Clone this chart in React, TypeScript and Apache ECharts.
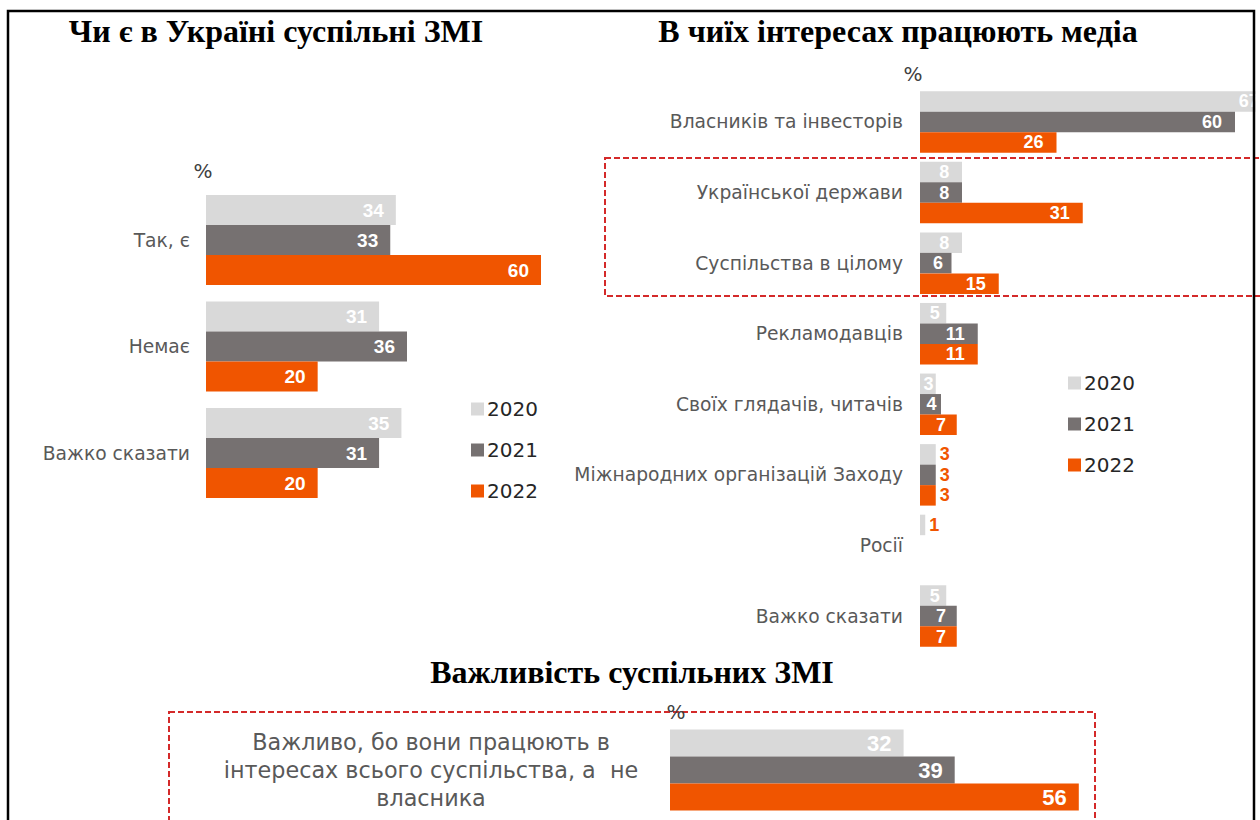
import React, { useEffect, useRef } from "react";
import * as echarts from "echarts";

const YEARS = ["2020", "2021", "2022"];
const COLORS = ["#D9D9D9", "#767171", "#F05500"];

const LEFT_CATS = ["Так, є", "Немає", "Важко сказати"];
const LEFT_2020 = [34, 31, 35];
const LEFT_2021 = [33, 36, 31];
const LEFT_2022 = [60, 20, 20];

const RIGHT_CATS = [
  "Власників та інвесторів",
  "Української держави",
  "Суспільства в цілому",
  "Рекламодавців",
  "Своїх глядачів, читачів",
  "Міжнародних організацій Заходу",
  "Росії",
  "Важко сказати",
];
const RIGHT_2020 = [67, 8, 8, 5, 3, 3, 1, 5];
const RIGHT_2021 = [60, 8, 6, 11, 4, 3, 0, 7];
const RIGHT_2022 = [26, 31, 15, 11, 7, 3, 0, 7];
const RIGHT_OUTSIDE_LABEL_CATS = ["Міжнародних організацій Заходу", "Росії"];

const BOTTOM_CATS = ["Важливо, бо вони працюють в\nінтересах всього суспільства, а  не\nвласника"];
const BOTTOM_2020 = [32];
const BOTTOM_2021 = [39];
const BOTTOM_2022 = [56];

const TITLE_LEFT = "Чи є в Україні суспільні ЗМІ";
const TITLE_RIGHT = "В чиїх інтересах працюють медіа";
const TITLE_BOTTOM = "Важливість суспільних ЗМІ";

const LABEL_FONT = "'Liberation Sans', Arial, sans-serif";
const CAT_FONT = "'DejaVu Sans', sans-serif";
const TITLE_FONT = "bold 32px 'Liberation Serif', 'Times New Roman', serif";

export default function App() {
  const ref = useRef<HTMLDivElement>(null);
  useEffect(() => {
    if (!ref.current) return;
    const chart = echarts.init(ref.current, undefined, { renderer: "svg" });

    const valueLabel = (fontSize: number, distance: number) => ({
      show: true,
      position: "insideRight",
      distance,
      color: "#ffffff",
      fontWeight: "bold",
      fontFamily: LABEL_FONT,
      fontSize,
      formatter: (p: any) => (p.value ? String(p.value) : ""),
    });

    const groups = [
      { cats: LEFT_CATS, vals: [LEFT_2020, LEFT_2021, LEFT_2022], barWidth: 30, fs: 19, dist: 12, pxPerUnit: 335 / 60, outside: [] as string[] },
      { cats: RIGHT_CATS, vals: [RIGHT_2020, RIGHT_2021, RIGHT_2022], barWidth: 20.5, fs: 18, dist: 13, pxPerUnit: 315 / 60, outside: RIGHT_OUTSIDE_LABEL_CATS },
      { cats: BOTTOM_CATS, vals: [BOTTOM_2020, BOTTOM_2021, BOTTOM_2022], barWidth: 27, fs: 22, dist: 12, pxPerUnit: 438 / 60, outside: [] as string[] },
    ];

    const makeData = (g: any, vals: number[]) =>
      vals.map((v, i) => {
        if (g.outside.includes(g.cats[i])) {
          return {
            value: v,
            label: { position: "right", distance: 4, color: "#F05500", fontSize: 18 },
          };
        }
        const barPx = v * g.pxPerUnit;
        const textW = String(v).length * g.fs * 0.56;
        const d = Math.max(1, Math.min(g.dist, (barPx - textW) / 2.5));
        return { value: v, label: { distance: d } };
      });

    const series: any[] = [];
    groups.forEach((g, gi) => {
      YEARS.forEach((y, yi) => {
        series.push({
          type: "bar",
          name: y,
          xAxisIndex: gi,
          yAxisIndex: gi,
          data: makeData(g, g.vals[yi]),
          barWidth: g.barWidth,
          barGap: "0%",
          clip: false,
          itemStyle: { color: COLORS[yi] },
          label: valueLabel(g.fs, g.dist),
        });
      });
    });

    const legendBase = {
      orient: "vertical",
      icon: "rect",
      itemWidth: 13,
      itemHeight: 13,
      itemGap: 21,
      selectedMode: false,
      data: YEARS,
      textStyle: {
        color: "#262626",
        fontSize: 20,
        lineHeight: 20,
        fontFamily: CAT_FONT,
        padding: [0, 0, 0, -2],
      },
    };

    const catLabel = (margin: number) => ({
      margin,
      color: "#595959",
      fontSize: 18.7,
      fontFamily: CAT_FONT,
    });

    const option: any = {
      animation: false,
      backgroundColor: "#ffffff",
      color: COLORS,
      legend: [
        { ...legendBase, left: 466, top: 394 },
        { ...legendBase, left: 1063, top: 368 },
      ],
      grid: [
        { left: 206, top: 186.75, width: 335, height: 319.5, containLabel: false },
        { left: 920, top: 86.7, width: 315, height: 564.6, containLabel: false },
        { left: 670, top: 720, width: 438, height: 100, containLabel: false },
      ],
      xAxis: [
        { type: "value", gridIndex: 0, min: 0, max: 60, show: false },
        { type: "value", gridIndex: 1, min: 0, max: 60, show: false },
        { type: "value", gridIndex: 2, min: 0, max: 60, show: false },
      ],
      yAxis: [
        {
          type: "category",
          gridIndex: 0,
          inverse: true,
          data: LEFT_CATS,
          axisLine: { show: false },
          axisTick: { show: false },
          axisLabel: catLabel(16),
        },
        {
          type: "category",
          gridIndex: 1,
          inverse: true,
          data: RIGHT_CATS,
          axisLine: { show: false },
          axisTick: { show: false },
          axisLabel: catLabel(17),
        },
        {
          type: "category",
          gridIndex: 2,
          inverse: true,
          data: BOTTOM_CATS,
          axisLine: { show: false },
          axisTick: { show: false },
          axisLabel: {
            margin: 239,
            align: "center",
            color: "#595959",
            fontSize: 22.3,
            lineHeight: 28,
            fontFamily: CAT_FONT,
          },
        },
      ],
      series,
      graphic: [
        {
          type: "rect",
          z: 100,
          shape: { x: 1255.5, y: 0, width: 10, height: 820 },
          style: { fill: "#ffffff" },
        },
        {
          type: "rect",
          z: 101,
          shape: { x: 605, y: 158, width: 700, height: 138 },
          style: { fill: "none", stroke: "#D42A2A", lineWidth: 2, lineDash: [6, 3] },
        },
        {
          type: "rect",
          z: 101,
          shape: { x: 169, y: 712, width: 926, height: 200 },
          style: { fill: "none", stroke: "#D42A2A", lineWidth: 2, lineDash: [6, 3] },
        },
        {
          type: "polyline",
          z: 102,
          shape: { points: [[8, 820], [8, 11], [1254, 11], [1254, 820]] },
          style: { fill: "none", stroke: "#000000", lineWidth: 2.5 },
        },
        {
          type: "text",
          z: 103,
          x: 276,
          y: 31,
          style: { text: TITLE_LEFT, fill: "#000000", font: TITLE_FONT, align: "center", verticalAlign: "middle" },
        },
        {
          type: "text",
          z: 103,
          x: 898,
          y: 31,
          style: { text: TITLE_RIGHT, fill: "#000000", font: TITLE_FONT, align: "center", verticalAlign: "middle" },
        },
        {
          type: "text",
          z: 103,
          x: 632,
          y: 672,
          style: { text: TITLE_BOTTOM, fill: "#000000", font: TITLE_FONT, align: "center", verticalAlign: "middle" },
        },
        {
          type: "text",
          z: 103,
          x: 203,
          y: 171,
          style: { text: "%", fill: "#404040", font: "20px " + CAT_FONT, align: "center", verticalAlign: "middle" },
        },
        {
          type: "text",
          z: 103,
          x: 913,
          y: 74,
          style: { text: "%", fill: "#404040", font: "20px " + CAT_FONT, align: "center", verticalAlign: "middle" },
        },
        {
          type: "text",
          z: 103,
          x: 676,
          y: 712,
          style: { text: "%", fill: "#404040", font: "20px " + CAT_FONT, align: "center", verticalAlign: "middle" },
        },
      ],
    };

    chart.setOption(option);
    return () => chart.dispose();
  }, []);

  return (
    <div
      style={{ position: "absolute", left: 0, top: 0, width: 1260, height: 820, overflow: "hidden", background: "#fff" }}
    >
      <div ref={ref} style={{ width: 1260, height: 820 }} />
    </div>
  );
}
